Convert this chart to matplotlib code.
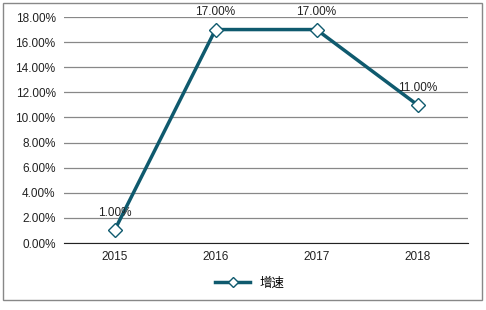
import matplotlib.pyplot as plt
from matplotlib.patches import Rectangle
from matplotlib.ticker import FuncFormatter

plt.rcParams['font.family'] = ['Noto Sans CJK SC', 'DejaVu Sans']

years = ['2015', '2016', '2017', '2018']
growth = [1.0, 17.0, 17.0, 11.0]
series_name = '增速'

line_color = '#0f5a6e'

fig = plt.figure(figsize=(4.86, 3.10), dpi=100)
ax = fig.add_axes([64 / 486, 1 - 243 / 310, 404 / 486, 226 / 310])

x = list(range(len(years)))
ax.plot(x, growth, color=line_color, linewidth=2.5, marker='D', markersize=7,
        markerfacecolor='white', markeredgecolor=line_color, markeredgewidth=1,
        label=series_name, zorder=3)

for xi, v in zip(x, growth):
    ax.annotate(f'{v:.2f}%', (xi, v), xytext=(0, 8), textcoords='offset points',
                ha='center', va='bottom', fontsize=8.5, color='#222222',
                family=['Liberation Sans', 'DejaVu Sans'])

ax.set_xlim(-0.5, len(years) - 0.5)
ax.set_ylim(0, 18)
ax.set_yticks(range(0, 19, 2))
ax.yaxis.set_major_formatter(FuncFormatter(lambda v, p: f'{v:.2f}%'))
ax.set_xticks(x)
ax.set_xticklabels(years)
ax.grid(axis='y', color='#888888', linewidth=0.9)
ax.set_axisbelow(True)
for s in ['top', 'right', 'left']:
    ax.spines[s].set_visible(False)
ax.spines['bottom'].set_color('#222222')
ax.tick_params(length=0, labelsize=8.5, colors='#222222', pad=6)
for lbl in ax.get_xticklabels() + ax.get_yticklabels():
    lbl.set_family(['Liberation Sans', 'DejaVu Sans'])

fig.legend(loc='center', bbox_to_anchor=(250 / 486, 1 - 283 / 310), frameon=False,
           fontsize=9, handlelength=2.8, markerscale=0.8)

fig.patches.append(Rectangle((3 / 486, 1 - 300 / 310), 479 / 486, 297 / 310,
                             transform=fig.transFigure, fill=False,
                             edgecolor='#888888', linewidth=1))

fig.savefig('out.png', dpi=100)
